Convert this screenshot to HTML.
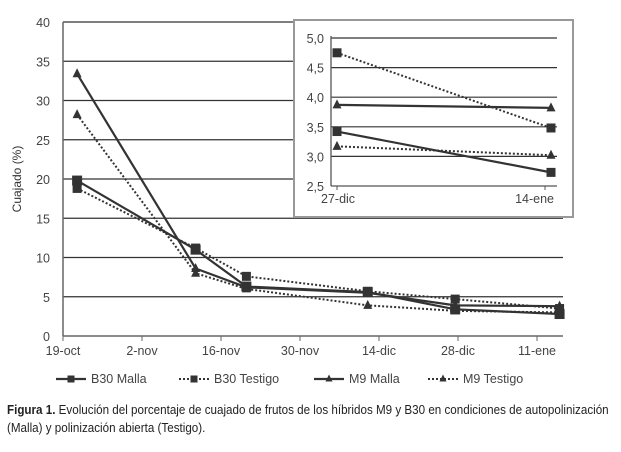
<!DOCTYPE html>
<html><head><meta charset="utf-8"><style>
body{margin:0;background:#fff;width:621px;height:452px;overflow:hidden;font-family:"Liberation Sans",sans-serif}
svg text{font-family:"Liberation Sans",sans-serif}
.cap{position:absolute;left:7px;font-size:12.5px;color:#222;white-space:nowrap;transform-origin:0 0;transform:scaleX(0.93)}
</style></head><body>
<svg id="c" width="621" height="452" style="position:absolute;left:0;top:0"></svg>
<div class="cap" style="top:403px"><b>Figura 1.</b> Evolución del porcentaje de cuajado de frutos de los híbridos M9 y B30 en condiciones de autopolinización</div>
<div class="cap" style="top:421px">(Malla) y polinización abierta (Testigo).</div>
<script>
const days=[2.5,23.5,32.5,54,69.5,88];
const b30Malla=[19.8,11.0,6.3,5.6,3.4,2.8];
const b30Testigo=[18.8,11.2,7.6,5.7,4.7,3.5];
const m9Malla=[33.4,8.6,6.2,5.5,3.9,3.8];
const m9Testigo=[28.2,8.0,6.0,3.9,3.2,3.0];
const yTicks=[0,5,10,15,20,25,30,35,40];
const xTickLabels=["19-oct","2-nov","16-nov","30-nov","14-dic","28-dic","11-ene"];
const insetX=["27-dic","14-ene"];
const insetB30Malla=[3.42,2.73];
const insetB30Testigo=[4.75,3.48];
const insetM9Malla=[3.87,3.82];
const insetM9Testigo=[3.17,3.02];
const insetYTicks=[2.5,3.0,3.5,4.0,4.5,5.0];

const svg=document.getElementById('c');const NS='http://www.w3.org/2000/svg';
function el(t,a,p){const e=document.createElementNS(NS,t);for(const k in a)e.setAttribute(k,a[k]);(p||svg).appendChild(e);return e;}
const X=d=>63+d*79/14, Y=v=>336-v*314/40;
yTicks.forEach(v=>{
 if(v>0){const g=el('line',{x1:63,x2:563,y1:Y(v),y2:Y(v),stroke:'#333','stroke-width':1.3});
 }
 const t=el('text',{x:50,y:Y(v)+5,'text-anchor':'end','font-size':12.5,fill:'#444'});t.textContent=v;
 
});
el('line',{x1:63,x2:63,y1:22,y2:336,stroke:'#666','stroke-width':1.5});
el('line',{x1:63,x2:563,y1:336,y2:336,stroke:'#666','stroke-width':1.5});
xTickLabels.forEach((s,i)=>{const x=X(i*14);el('line',{x1:x,x2:x,y1:336,y2:341,stroke:'#666'});
 const t=el('text',{x:x,y:355,'text-anchor':'middle','font-size':12.5,fill:'#444'});t.textContent=s;
 });
const yt=el('text',{transform:'translate(21,179) rotate(-90)','text-anchor':'middle','font-size':12,fill:'#333'});yt.textContent='Cuajado (%)';

function marker(x,y,type,s){if(type==='sq')return el('rect',{x:x-s,y:y-s,width:2*s,height:2*s,fill:'#333'});
 return el('polygon',{points:`${x},${y-s-1} ${x-s},${y+s-1} ${x+s},${y+s-1}`,fill:'#333'});}
function series(xs,vals,fx,fy,dash,type,name,s){
 const pts=vals.map((v,i)=>fx(xs[i])+','+fy(v)).join(' ');
 const p=el('polyline',{points:pts,fill:'none',stroke:'#333','stroke-width':dash?2:2.2,'stroke-dasharray':dash?'2 2':'none'});
 
 vals.forEach((v,i)=>{const m=marker(fx(xs[i]),fy(v),type,s);});
}
series(days,b30Malla,X,Y,false,'sq','b30-malla',5);
series(days,b30Testigo,X,Y,true,'sq','b30-testigo',4.5);
series(days,m9Malla,X,Y,false,'tri','m9-malla',4.5);
series(days,m9Testigo,X,Y,true,'tri','m9-testigo',4.5);
const box=el('rect',{x:294,y:20,width:279,height:197,fill:'#fff',stroke:'#999','stroke-width':2});

const IX=i=>337+i*(551-337), IY=v=>186-(v-2.5)*148/2.5;
insetYTicks.forEach(v=>{if(v>2.5)el('line',{x1:331,x2:557,y1:IY(v),y2:IY(v),stroke:'#333','stroke-width':1.2});
 const t=el('text',{x:324,y:IY(v)+5,'text-anchor':'end','font-size':12.5,fill:'#444'});t.textContent=v.toFixed(1).replace('.',',');
 });
el('line',{x1:331,x2:331,y1:36,y2:186,stroke:'#555','stroke-width':1.3});
el('line',{x1:331,x2:557,y1:186,y2:186,stroke:'#555','stroke-width':1.3});
insetX.forEach((s,i)=>{const x=i?545:337;el('line',{x1:x,x2:x,y1:186,y2:190,stroke:'#555'});
 const t=el('text',{x:i?554:321,y:203,'text-anchor':i?'end':'start','font-size':12.5,fill:'#444'});t.textContent=s;
 });
series([0,1],insetB30Malla,IX,IY,false,'sq','inset-b30-malla',4.5);
series([0,1],insetB30Testigo,IX,IY,true,'sq','inset-b30-testigo',4.5);
series([0,1],insetM9Malla,IX,IY,false,'tri','inset-m9-malla',4.5);
series([0,1],insetM9Testigo,IX,IY,true,'tri','inset-m9-testigo',4.5);
const leg=[["B30 Malla",false,'sq',56],["B30 Testigo",true,'sq',179],["M9 Malla",false,'tri',314],["M9 Testigo",true,'tri',428]];
leg.forEach(([n,d,t,x])=>{const g=el('g',{});
 el('line',{x1:x,x2:x+30,y1:379,y2:379,stroke:'#333','stroke-width':d?2:2.2,'stroke-dasharray':d?'2 2':'none'},g);
 const m=marker(x+15,379,t,3.5);g.appendChild(m);
 const tx=el('text',{x:x+35,y:383,'font-size':12.5,fill:'#444'},g);tx.textContent=n;});
</script>
</body></html>
